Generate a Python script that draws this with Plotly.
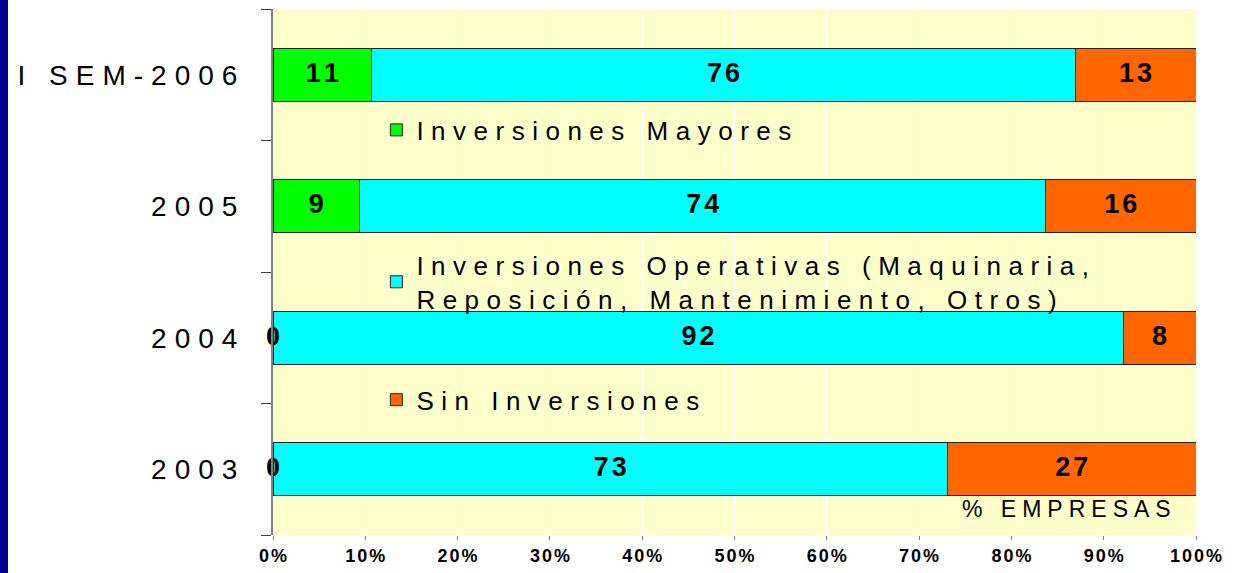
import plotly.graph_objects as go

categories = ["2003", "2004", "2005", "I SEM-2006"]
mayores = [0, 0, 9.4, 10.7]
operativas = [73.1, 92.1, 74.3, 76.2]
sin_inv = [26.9, 7.9, 16.3, 13.1]

series_names = [
    "Inversiones Mayores",
    "Inversiones Operativas (Maquinaria,<br>Reposición, Mantenimiento, Otros)",
    "Sin Inversiones",
]
series_values = [mayores, operativas, sin_inv]
colors = ["#00FF00", "#00FFFF", "#FF6600"]
x_ticks = list(range(0, 101, 10))
x_ticklabels = [f"{v}%" for v in x_ticks]


def spaced(txt, px):
    # letter-spacing on all but the last character of each line (no trailing gap)
    out = []
    for p in txt.split("<br>"):
        if len(p) > 1:
            out.append(f'<span style="letter-spacing:{px}px">{p[:-1]}</span>{p[-1]}')
        else:
            out.append(p)
    return "<br>".join(out)


fig = go.Figure()
legends = ["legend", "legend2", "legend3"]
for name, vals, col, lg in zip(series_names, series_values, colors, legends):
    fig.add_trace(go.Bar(
        y=categories, x=vals, name=spaced(name, 7.5), orientation="h",
        marker=dict(color=col, line=dict(color="#222222", width=1)),
        width=0.4, legend=lg, hoverinfo="x+y",
    ))

# data labels, centred on each segment
cum = [0] * len(categories)
for vals in series_values:
    xs, txt, fam, size = [], [], [], []
    for i, v in enumerate(vals):
        xs.append(cum[i] + v / 2)
        txt.append(spaced(f"{v:.0f}", 3))
        fam.append("Liberation Serif" if v == 0 else "Liberation Sans")
        size.append(28 if v == 0 else 27)
        cum[i] += v
    fig.add_trace(go.Scatter(
        x=xs, y=categories, mode="text", text=txt, showlegend=False,
        textfont=dict(family=fam, size=size, color="black", weight="bold"),
        cliponaxis=False, hoverinfo="skip",
    ))

W, H = 1235, 573
ml, mr, mt, mb = 273, 39, 9, 38
pw, ph = W - ml - mr, H - mt - mb

fig.update_layout(
    width=W, height=H,
    margin=dict(l=ml, r=mr, t=mt, b=mb, pad=0, autoexpand=False),
    barmode="stack",
    paper_bgcolor="white",
    plot_bgcolor="#FFFFCC",
    font=dict(family="Liberation Sans", color="black"),
    xaxis=dict(
        range=[0, 100], tickvals=x_ticks,
        ticktext=[spaced(t, 2) for t in x_ticklabels],
        tickfont=dict(size=18, weight="bold"),
        showgrid=True, gridcolor="white", gridwidth=1,
        ticks="outside", ticklen=4, tickcolor="#808080",
        zeroline=False, showline=False, fixedrange=True, automargin=False,
    ),
    yaxis=dict(
        categoryorder="array", categoryarray=categories,
        tickvals=categories, ticktext=[spaced(c, 8) for c in categories],
        tickfont=dict(size=28),
        tickson="boundaries", ticks="outside", ticklen=10, tickcolor="#404040",
        showline=True, linecolor="#808080", linewidth=2,
        ticklabelstandoff=28, showgrid=False, fixedrange=True, automargin=False,
    ),
    legend=dict(x=0.112, y=0.77, xanchor="left", yanchor="middle",
                bgcolor="rgba(0,0,0,0)", font=dict(size=26)),
    legend2=dict(x=0.112, y=0.481, xanchor="left", yanchor="middle",
                 bgcolor="rgba(0,0,0,0)", font=dict(size=26)),
    legend3=dict(x=0.112, y=0.257, xanchor="left", yanchor="middle",
                 bgcolor="rgba(0,0,0,0)", font=dict(size=26)),
    annotations=[dict(
        text=spaced("% EMPRESAS", 6), xref="paper", yref="paper",
        x=0.975, y=0.02, xanchor="right", yanchor="bottom", showarrow=False,
        font=dict(size=23),
    )],
    shapes=[dict(
        type="rect", xref="paper", yref="paper",
        x0=-ml / pw, x1=-(ml - 8) / pw,
        y0=-mb / ph, y1=1 + mt / ph,
        fillcolor="#000099", line=dict(width=0), layer="above",
    )],
)

fig.write_html("out.html", config={"displayModeBar": False},
               post_script="document.body.style.margin='0';")
